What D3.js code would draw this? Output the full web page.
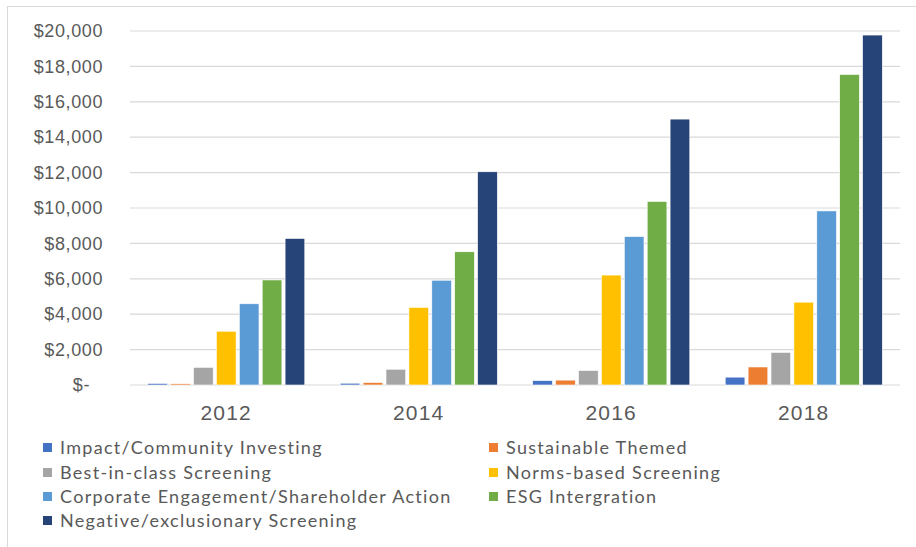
<!DOCTYPE html>
<html>
<head>
<meta charset="utf-8">
<script src="https://cdn.jsdelivr.net/npm/d3@7"></script>
<style>
  body { margin: 0; background: #fff; }
  svg { display: block; font-family: Lato, "Open Sans", sans-serif; }
  .tick text { fill: #595959; }
</style>
</head>
<body>
<div id="chart"></div>
<script>
// Data (US$ billions)
const years = ["2012", "2014", "2016", "2018"];
const seriesNames = [
  "Impact/Community Investing",
  "Sustainable Themed",
  "Best-in-class Screening",
  "Norms-based Screening",
  "Corporate Engagement/Shareholder Action",
  "ESG Intergration",
  "Negative/exclusionary Screening"
];
const impactValues = [89, 101, 248, 444];
const themedValues = [70, 138, 276, 1018];
const bestInClassValues = [999, 890, 818, 1842];
const normsValues = [3038, 4385, 6210, 4679];
const engagementValues = [4589, 5919, 8385, 9835];
const esgValues = [5935, 7527, 10369, 17544];
const negativeValues = [8280, 12046, 15023, 19771];
const yTicks = [0, 2000, 4000, 6000, 8000, 10000, 12000, 14000, 16000, 18000, 20000];

const seriesValues = [impactValues, themedValues, bestInClassValues, normsValues,
  engagementValues, esgValues, negativeValues];

const colors = ["#4472C4", "#ED7D31", "#A5A5A5", "#FFC000", "#5B9BD5", "#70AD47", "#264478"];

const width = 916, height = 547;
const plot = { left: 130, right: 900, top: 31, bottom: 385 };

const svg = d3.select("#chart").append("svg")
  .attr("width", width)
  .attr("height", height);

// chart frame
svg.append("rect")
  .attr("x", 7.5).attr("y", 6.5)
  .attr("width", width + 10).attr("height", height + 10)
  .attr("fill", "#fff")
  .attr("stroke", "#d9d9d9");

const x0 = d3.scaleBand()
  .domain(years)
  .range([plot.left, plot.right])
  .paddingInner(0.184)
  .paddingOuter(0.092);

const x1 = d3.scaleBand()
  .domain(d3.range(seriesNames.length))
  .range([0, x0.bandwidth()])
  .paddingInner(0.14)
  .paddingOuter(0);

const y = d3.scaleLinear()
  .domain([0, 20000])
  .range([plot.bottom, plot.top]);

// gridlines
svg.append("g")
  .selectAll("line")
  .data(yTicks)
  .join("line")
  .attr("x1", plot.left).attr("x2", plot.right)
  .attr("y1", d => y(d)).attr("y2", d => y(d))
  .attr("stroke", "#d9d9d9")
  .attr("stroke-width", 1.2);

// y axis labels
const yAxis = svg.append("g")
  .attr("transform", `translate(${plot.left - 27},0)`)
  .call(d3.axisLeft(y)
    .tickValues(yTicks)
    .tickSize(0)
    .tickPadding(0)
    .tickFormat(d => d === 0 ? "$-" : "$" + d3.format(",")(d)));
yAxis.select(".domain").remove();
yAxis.selectAll("text")
  .attr("font-size", 18)
  .attr("letter-spacing", 0.6)
  .attr("x", d => d === 0 ? -13 : 0);

// bars
const groups = svg.append("g")
  .selectAll("g")
  .data(years)
  .join("g")
  .attr("transform", d => `translate(${x0(d)},0)`);

groups.selectAll("rect")
  .data((yr, i) => seriesValues.map((vals, s) => ({ s, v: vals[i] })))
  .join("rect")
  .attr("x", d => x1(d.s))
  .attr("y", d => y(d.v))
  .attr("width", x1.bandwidth())
  .attr("height", d => plot.bottom - y(d.v))
  .attr("fill", d => colors[d.s])
  .attr("stroke", "#fff")
  .attr("stroke-width", 0.6);

// x axis labels
const xAxis = svg.append("g")
  .attr("transform", `translate(0,${plot.bottom})`)
  .call(d3.axisBottom(x0).tickSize(0).tickPadding(0));
xAxis.select(".domain").remove();
xAxis.selectAll("text")
  .attr("font-size", 21)
  .attr("letter-spacing", 1.2)
  .attr("y", 35)
  .attr("dy", 0);

// legend: two columns, filled row by row
const legendCols = [43, 489];
const legendRowY = [448, 473, 497, 521];

const legend = svg.append("g")
  .selectAll("g")
  .data(seriesNames)
  .join("g")
  .attr("transform", (d, i) =>
    `translate(${legendCols[i % 2]},${legendRowY[Math.floor(i / 2)]})`);

legend.append("rect")
  .attr("x", 0).attr("y", -5)
  .attr("width", 9).attr("height", 9)
  .attr("fill", (d, i) => colors[i]);

legend.append("text")
  .attr("x", 17)
  .attr("dy", "0.35em")
  .attr("font-size", 18)
  .attr("letter-spacing", 1.3)
  .attr("fill", "#595959")
  .text(d => d);
</script>
</body>
</html>
